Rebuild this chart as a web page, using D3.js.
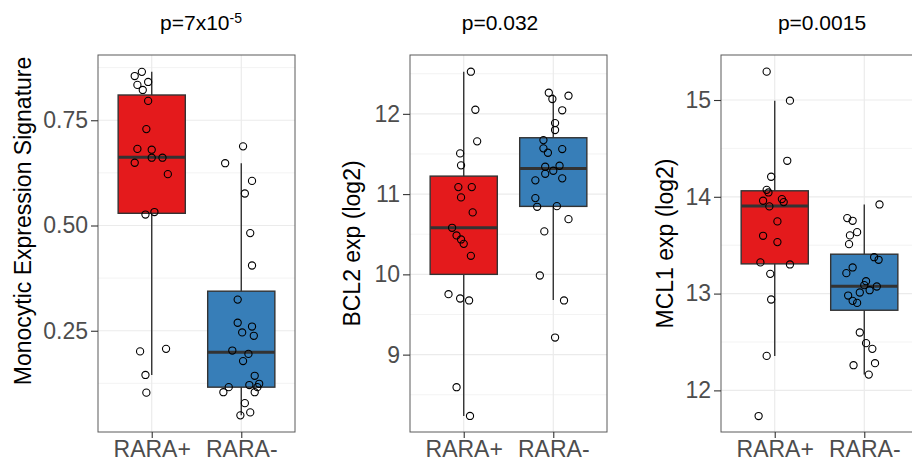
<!DOCTYPE html>
<html>
<head>
<meta charset="utf-8">
<script src="https://cdn.jsdelivr.net/npm/d3@7"></script>
<style>
  body { margin: 0; background: #fff; }
  text { font-family: "Liberation Sans", Arial, sans-serif; }
</style>
</head>
<body>
<div id="d3"></div>
<script>
// categories
const groups = ["RARA+", "RARA-"];

// panel 1: monocytic expression signature
const monoPos = [0.855, 0.865, 0.834, 0.841, 0.822, 0.796, 0.729, 0.682, 0.680, 0.661,
  0.661, 0.649, 0.622, 0.526, 0.532, 0.201, 0.207, 0.145, 0.103];
const monoPosJit = [-0.19, -0.11, -0.16, -0.04, -0.10, -0.04, -0.06, -0.16, 0, 0,
  0.12, -0.19, 0.18, -0.07, 0.03, -0.13, 0.16, -0.07, -0.06];
const monoNeg = [0.688, 0.648, 0.606, 0.576, 0.482, 0.405, 0.324, 0.269, 0.260, 0.246,
  0.238, 0.203, 0.195, 0.178, 0.143, 0.121, 0.124, 0.116, 0.116, 0.104, 0.104, 0.078, 0.056, 0.049];
const monoNegJit = [0.02, -0.18, 0.12, 0.04, 0.10, 0.12, -0.04, -0.04, 0.12, 0.01,
  0.14, -0.10, 0.08, 0.02, 0.15, 0.09, 0.20, 0.18, -0.14, -0.20, 0.15, 0.04, 0.10, -0.01];
// [lower whisker, q1, median, q3, upper whisker]
const monoBoxPos = [0.145, 0.529, 0.662, 0.81, 0.865];
const monoBoxNeg = [0.049, 0.116, 0.199, 0.344, 0.648];

// panel 2: BCL2
const bcl2Pos = [12.525, 12.051, 11.657, 11.507, 11.358, 11.087, 11.087, 10.959, 10.772, 10.580,
  10.485, 10.435, 10.380, 10.231, 9.753, 9.699, 9.675, 8.594, 8.236];
const bcl2PosJit = [0.08, 0.13, 0.15, -0.04, -0.03, -0.06, 0.09, -0.03, 0.10, -0.13,
  -0.08, -0.03, 0, 0.08, -0.17, -0.04, 0.06, -0.08, 0.07];
const bcl2Neg = [12.263, 12.185, 12.226, 12.044, 11.885, 11.798, 11.673, 11.570, 11.561, 11.515,
  11.341, 11.353, 11.291, 11.253, 11.196, 11.171, 10.950, 10.842, 10.850, 10.688, 10.535, 9.986, 9.675, 9.213];
const bcl2NegJit = [-0.05, -0.01, 0.17, 0.10, 0.02, 0.02, -0.11, -0.11, 0.10, -0.06,
  -0.09, 0.07, 0, -0.09, 0.10, -0.20, -0.20, -0.18, 0.04, 0.17, -0.10, -0.15, 0.12, 0.02];
const bcl2BoxPos = [8.236, 10.0, 10.58, 11.224, 12.525];
const bcl2BoxNeg = [9.68, 10.847, 11.32, 11.702, 12.24];

// panel 3: MCL1
const mcl1Pos = [15.293, 14.993, 14.372, 14.207, 14.072, 14.045, 13.976, 13.959, 13.945, 13.901,
  13.746, 13.597, 13.532, 13.322, 13.301, 13.204, 12.939, 12.356, 11.735];
const mcl1PosJit = [-0.09, 0.17, 0.14, -0.04, -0.09, -0.07, 0.08, -0.13, 0.10, -0.06,
  0.03, -0.13, 0.03, -0.16, 0.17, -0.05, -0.04, -0.09, -0.18];
const mcl1Neg = [13.921, 13.780, 13.752, 13.601, 13.635, 13.511, 13.376, 13.349, 13.270, 13.211,
  13.128, 13.087, 13.073, 13.035, 13.011, 12.980, 12.925, 12.904, 12.598, 12.488, 12.429, 12.281, 12.260, 12.163];
const mcl1NegJit = [0.17, -0.19, -0.13, -0.16, -0.08, -0.17, 0.11, 0.16, -0.13, -0.20,
  0.02, 0, 0.14, 0.06, -0.05, -0.18, -0.13, -0.08, -0.05, 0.02, 0.09, 0.12, -0.12, 0.05];
const mcl1BoxPos = [12.356, 13.307, 13.904, 14.062, 14.993];
const mcl1BoxNeg = [12.163, 12.828, 13.077, 13.407, 13.92];

// axis limits, breaks and labels
const monoLimits = [0.0095, 0.905];
const bcl2Limits = [8.036, 12.733];
const mcl1Limits = [11.57, 15.465];
const monoTicks = [0.25, 0.5, 0.75];
const monoTickLabels = ["0.25", "0.50", "0.75"];
const bcl2Ticks = [9, 10, 11, 12];
const mcl1Ticks = [12, 13, 14, 15];
const monoMinor = [0.125, 0.375, 0.625, 0.875];
const bcl2Minor = [8.5, 9.5, 10.5, 11.5, 12.5];
const mcl1Minor = [12.5, 13.5, 14.5];

const colors = ["#E41A1C", "#377EB8"];

const panels = [
  { left: 98, titleX: 201, yTitleX: 31, yTitleY: 221, yTitle: "Monocytic Expression Signature",
    title: ["p=7x10", "-5"], limits: monoLimits, ticks: monoTicks, tickLabels: monoTickLabels, minor: monoMinor,
    values: [monoPos, monoNeg], jit: [monoPosJit, monoNegJit], boxes: [monoBoxPos, monoBoxNeg] },
  { left: 410, titleX: 500, yTitleX: 360, yTitleY: 243.5, yTitle: "BCL2 exp (log2)",
    title: ["p=0.032"], limits: bcl2Limits, ticks: bcl2Ticks, tickLabels: bcl2Ticks.map(String), minor: bcl2Minor,
    values: [bcl2Pos, bcl2Neg], jit: [bcl2PosJit, bcl2NegJit], boxes: [bcl2BoxPos, bcl2BoxNeg] },
  { left: 721, titleX: 822, yTitleX: 673, yTitleY: 243.5, yTitle: "MCL1 exp (log2)",
    title: ["p=0.0015"], limits: mcl1Limits, ticks: mcl1Ticks, tickLabels: mcl1Ticks.map(String), minor: mcl1Minor,
    values: [mcl1Pos, mcl1Neg], jit: [mcl1PosJit, mcl1NegJit], boxes: [mcl1BoxPos, mcl1BoxNeg] }
];

const W = 912, H = 460;
const plotTop = 55, plotBottom = 432, pw = 197;

const svg = d3
  .select("#d3")
  .append("svg")
  .attr("width", W)
  .attr("height", H);

panels.forEach(function (p) {
  const g = svg.append("g").attr("transform", `translate(${p.left},0)`);

  const x = d3.scalePoint().domain(groups).range([0, pw]).padding(0.6);
  const step = x.step();
  const y = d3.scaleLinear().domain(p.limits).range([plotBottom, plotTop]);

  // grid
  g.selectAll(".minor")
    .data(p.minor)
    .join("line")
    .attr("x1", 0).attr("x2", pw)
    .attr("y1", (d) => y(d)).attr("y2", (d) => y(d))
    .attr("stroke", "#EBEBEB").attr("stroke-width", 0.6);
  g.selectAll(".major")
    .data(p.ticks)
    .join("line")
    .attr("x1", 0).attr("x2", pw)
    .attr("y1", (d) => y(d)).attr("y2", (d) => y(d))
    .attr("stroke", "#EBEBEB").attr("stroke-width", 1.2);
  g.selectAll(".vmajor")
    .data(groups)
    .join("line")
    .attr("x1", (d) => x(d)).attr("x2", (d) => x(d))
    .attr("y1", plotTop).attr("y2", plotBottom)
    .attr("stroke", "#EBEBEB").attr("stroke-width", 1.2);

  // boxes
  const bw = step * 0.75;
  groups.forEach(function (grp, i) {
    const b = p.boxes[i];
    const cx = x(grp);
    g.append("line")
      .attr("x1", cx).attr("x2", cx)
      .attr("y1", y(b[0])).attr("y2", y(b[4]))
      .attr("stroke", "#333333").attr("stroke-width", 1.4);
    g.append("rect")
      .attr("x", cx - bw / 2)
      .attr("y", y(b[3]))
      .attr("width", bw)
      .attr("height", y(b[1]) - y(b[3]))
      .attr("fill", colors[i])
      .attr("stroke", "#333333")
      .attr("stroke-width", 1.4);
    g.append("line")
      .attr("x1", cx - bw / 2).attr("x2", cx + bw / 2)
      .attr("y1", y(b[2])).attr("y2", y(b[2]))
      .attr("stroke", "#333333").attr("stroke-width", 3);
  });

  // jittered points
  groups.forEach(function (grp, i) {
    g.append("g")
      .selectAll("circle")
      .data(p.values[i])
      .join("circle")
      .attr("cx", (d, j) => x(grp) + p.jit[i][j] * step)
      .attr("cy", (d) => y(d))
      .attr("r", 3.6)
      .attr("fill", "none")
      .attr("stroke", "#000")
      .attr("stroke-width", 1.1);
  });

  // panel border
  g.append("rect")
    .attr("x", 0).attr("y", plotTop)
    .attr("width", pw).attr("height", plotBottom - plotTop)
    .attr("fill", "none")
    .attr("stroke", "#5a5a5a")
    .attr("stroke-width", 1);

  // axes
  const ya = g.append("g")
    .call(d3.axisLeft(y).tickValues(p.ticks).tickFormat((d, i) => p.tickLabels[i]).tickSize(7).tickPadding(3));
  const xa = g.append("g")
    .attr("transform", `translate(0,${plotBottom})`)
    .call(d3.axisBottom(x).tickSize(6).tickPadding(3));
  [ya, xa].forEach(function (a) {
    a.select(".domain").remove();
    a.selectAll("line").attr("stroke", "#333333").attr("stroke-width", 1.1);
    a.selectAll("text")
      .attr("fill", "#4D4D4D")
      .style("font-size", "23px")
      .style("font-family", '"Liberation Sans", Arial, sans-serif');
  });

  // y title
  svg.append("text")
    .attr("transform", `translate(${p.yTitleX},${p.yTitleY}) rotate(-90)`)
    .attr("text-anchor", "middle")
    .style("font-size", "23px")
    .attr("fill", "#000")
    .text(p.yTitle);

  // p-value title
  const t = svg.append("text")
    .attr("x", p.titleX)
    .attr("y", 30)
    .attr("text-anchor", "middle")
    .style("font-size", "21px")
    .attr("fill", "#000");
  t.append("tspan").text(p.title[0]);
  if (p.title.length > 1) {
    t.append("tspan")
      .attr("dy", -7)
      .style("font-size", "14px")
      .text(p.title[1]);
  }
});
</script>
</body>
</html>
